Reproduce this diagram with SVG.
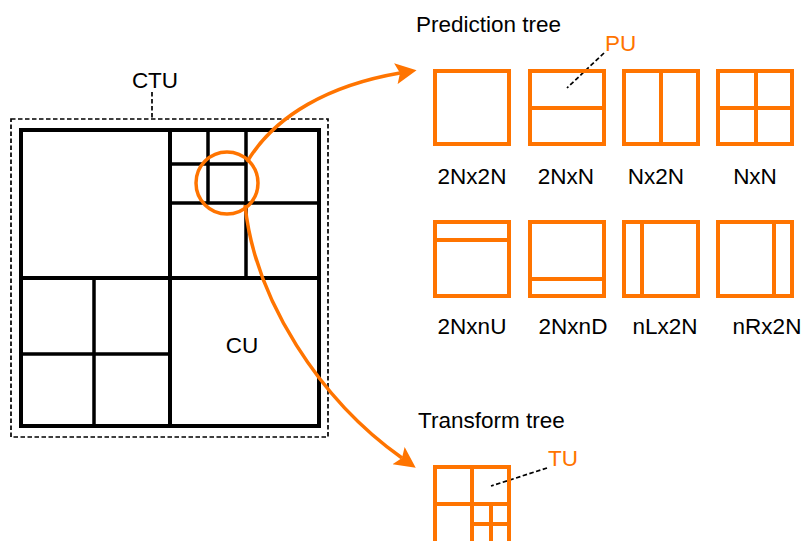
<svg xmlns="http://www.w3.org/2000/svg" width="802" height="541" viewBox="0 0 802 541">
<style>
text{font-family:"Liberation Sans",Arial,sans-serif;font-size:22.5px;fill:#000}
.or{fill:#FF7400}
.blk{fill:none;stroke:#000;stroke-width:3.5}
.thk{fill:none;stroke:#000;stroke-width:4}
.ob{fill:none;stroke:#FF7400;stroke-width:4}
.dash{fill:none;stroke:#000;stroke-width:1.7;stroke-dasharray:4.5 2.5}
.conn{fill:none;stroke:#FF7400;stroke-width:3.5}
</style>
<defs>
<marker id="ah" viewBox="0 0 10 10" refX="2" refY="5" markerWidth="7" markerHeight="6" markerUnits="strokeWidth" orient="auto">
<path d="M0,0 L10,5 L0,10 L2,5 Z" fill="#FF7400"/>
</marker>
</defs>
<rect width="802" height="541" fill="#fff"/>

<g id="ctu">
<rect class="dash" x="11" y="119" width="317" height="318"/>
<line class="dash" x1="152" y1="92" x2="152" y2="119"/>
<text x="155" y="88" text-anchor="middle">CTU</text>
<rect class="thk" x="21" y="130" width="298" height="296"/>
<line class="thk" x1="170" y1="130" x2="170" y2="426"/>
<line class="thk" x1="21" y1="278" x2="319" y2="278"/>
<line class="blk" x1="246" y1="130" x2="246" y2="278"/>
<line class="blk" x1="170" y1="203" x2="319" y2="203"/>
<line class="blk" x1="208" y1="130" x2="208" y2="203"/>
<line class="blk" x1="170" y1="164" x2="246" y2="164"/>
<line class="blk" x1="94" y1="278" x2="94" y2="426"/>
<line class="blk" x1="21" y1="354" x2="170" y2="354"/>
<text x="242" y="353" text-anchor="middle">CU</text>
<circle cx="227" cy="183" r="31" fill="none" stroke="#FF7400" stroke-width="3.5"/>
</g>

<g id="connectors">
<path class="conn" d="M247,162 C275,115 330,85 400,73" marker-end="url(#ah)"/>
<path class="conn" d="M245,205 C255,300 320,400 402,458" marker-end="url(#ah)"/>
</g>

<g id="prediction-tree">
<text x="416" y="32">Prediction tree</text>
<text class="or" x="605" y="51">PU</text>
<line class="dash" x1="604" y1="53" x2="567" y2="88"/>
<g id="pu-2Nx2N">
<rect class="ob" x="435" y="71" width="74" height="73"/>
<text x="472" y="184" text-anchor="middle">2Nx2N</text>
</g>
<g id="pu-2NxN">
<rect class="ob" x="530" y="71" width="74" height="73"/>
<line class="ob" x1="530" y1="108" x2="604" y2="108"/>
<text x="566" y="184" text-anchor="middle">2NxN</text>
</g>
<g id="pu-Nx2N">
<rect class="ob" x="624" y="71" width="74" height="73"/>
<line class="ob" x1="661" y1="71" x2="661" y2="144"/>
<text x="656" y="184" text-anchor="middle">Nx2N</text>
</g>
<g id="pu-NxN">
<rect class="ob" x="718" y="71" width="74" height="73"/>
<line class="ob" x1="756" y1="71" x2="756" y2="144"/>
<line class="ob" x1="718" y1="108" x2="792" y2="108"/>
<text x="755" y="184" text-anchor="middle">NxN</text>
</g>
<g id="pu-2NxnU">
<rect class="ob" x="435" y="222" width="74" height="74"/>
<line class="ob" x1="435" y1="240" x2="509" y2="240"/>
<text x="472" y="334" text-anchor="middle">2NxnU</text>
</g>
<g id="pu-2NxnD">
<rect class="ob" x="530" y="222" width="74" height="74"/>
<line class="ob" x1="530" y1="279" x2="604" y2="279"/>
<text x="573" y="334" text-anchor="middle">2NxnD</text>
</g>
<g id="pu-nLx2N">
<rect class="ob" x="624" y="222" width="74" height="74"/>
<line class="ob" x1="642" y1="222" x2="642" y2="296"/>
<text x="665" y="334" text-anchor="middle">nLx2N</text>
</g>
<g id="pu-nRx2N">
<rect class="ob" x="718" y="222" width="74" height="74"/>
<line class="ob" x1="774" y1="222" x2="774" y2="296"/>
<text x="767" y="334" text-anchor="middle">nRx2N</text>
</g>
</g>

<g id="transform-tree">
<text x="418" y="428">Transform tree</text>
<text class="or" x="548" y="466">TU</text>
<line class="dash" x1="547" y1="468" x2="491" y2="486"/>
<rect class="ob" x="435" y="467" width="74" height="76"/>
<line class="ob" x1="472" y1="467" x2="472" y2="545"/>
<line class="ob" x1="435" y1="504" x2="509" y2="504"/>
<line class="ob" x1="491" y1="504" x2="491" y2="545"/>
<line class="ob" x1="472" y1="524" x2="509" y2="524"/>
</g>
</svg>
